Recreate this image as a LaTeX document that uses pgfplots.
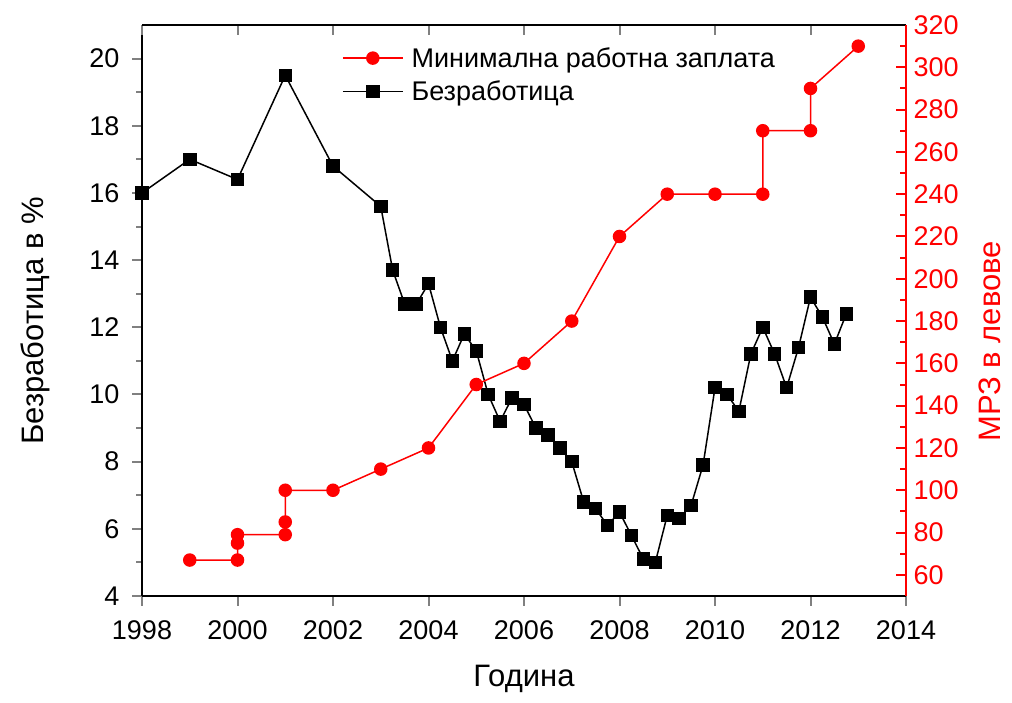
\documentclass[border=0pt]{standalone}
\usepackage{pgfplots}
\pgfplotsset{compat=1.18}
\usepackage{fontspec}
\setmainfont{Liberation Sans}
\definecolor{mwred}{RGB}{255,0,0}
\begin{document}
\begin{tikzpicture}[x=1pt,y=1pt]
\path[use as bounding box] (0,0) rectangle (1012,703);
\pgfplotsset{
  common/.style={
    at={(142pt,107pt)}, anchor=south west,
    scale only axis, width=764pt, height=571pt,
    xmin=1998, xmax=2014,
    xtick={1998,2000,...,2014}, minor x tick num=1,
    /pgf/number format/assume math mode=true,
    /pgf/number format/1000 sep={},
    tick label style={font=\fontsize{27}{32}\selectfont},
    label style={font=\fontsize{31}{37}\selectfont},
    major tick length=10pt, minor tick length=6pt,
    axis line style={-, line width=2pt},
    every tick/.append style={line width=2pt},
  },
}
\begin{axis}[common,
  axis x line*=bottom, axis y line*=left, tick align=outside,
  ymin=4, ymax=21, ytick={4,6,...,20}, minor y tick num=1,
  xticklabel style={yshift=-11pt},
  yticklabel style={xshift=-9pt},
  xlabel={Година}, ylabel={Безработица в \%},
  xlabel style={at={(axis description cs:0.5,-0.145)}, anchor=center},
  ylabel style={at={(axis description cs:-0.140,0.482)}, anchor=center, rotate=0},
]
\addplot[black, line width=1.5pt, mark=square*, mark size=6pt] coordinates {
(1998,16.0) (1999,17.0) (2000,16.4) (2001,19.5) (2002,16.8) (2003,15.6)
(2003.25,13.7) (2003.5,12.7) (2003.75,12.7) (2004,13.3)
(2004.25,12.0) (2004.5,11.0) (2004.75,11.8) (2005,11.3)
(2005.25,10.0) (2005.5,9.2) (2005.75,9.9) (2006,9.7)
(2006.25,9.0) (2006.5,8.8) (2006.75,8.4) (2007,8.0)
(2007.25,6.8) (2007.5,6.6) (2007.75,6.1) (2008,6.5)
(2008.25,5.8) (2008.5,5.1) (2008.75,5.0) (2009,6.4)
(2009.25,6.3) (2009.5,6.7) (2009.75,7.9) (2010,10.2)
(2010.25,10.0) (2010.5,9.5) (2010.75,11.2) (2011,12.0)
(2011.25,11.2) (2011.5,10.2) (2011.75,11.4) (2012,12.9)
(2012.25,12.3) (2012.5,11.5) (2012.75,12.4)
};
\end{axis}
\begin{axis}[common,
  axis x line*=top, axis y line*=right, tick align=inside,
  xticklabels={},
  x axis line style={black}, y axis line style={mwred},
  every major y tick/.append style={mwred},
  every minor y tick/.append style={mwred},
  yticklabel style={mwred, xshift=4pt},
  ymin=50, ymax=320, ytick={60,80,...,320}, minor y tick num=1,
  ylabel={МРЗ в левове},
  ylabel style={mwred, at={(axis description cs:1.110,0.446)}, anchor=center, rotate=0},
  legend style={draw=none, fill=none, at={(axis description cs:0.259,0.968)}, anchor=north west,
    font=\fontsize{27}{32}\selectfont, row sep=8pt, inner sep=2pt},
  legend cell align=left,
  legend image code/.code={\draw[#1, mark repeat=2, mark phase=2] plot coordinates {(0pt,0pt) (30pt,0pt) (60pt,0pt)};
    \path (66pt,0pt);},
]
\addplot[mwred, line width=1.5pt, mark=*, mark size=6pt] coordinates {
(1999,67) (2000,67) (2000,75) (2000,79) (2001,79) (2001,85) (2001,100)
(2002,100) (2003,110) (2004,120) (2005,150) (2006,160) (2007,180)
(2008,220) (2009,240) (2010,240) (2011,240) (2011,270) (2012,270)
(2012,290) (2013,310)
};
\addlegendentry{Минимална работна заплата}
\addlegendimage{black, line width=1.5pt, mark=square*, mark size=6pt}
\addlegendentry{Безработица}
\end{axis}
\end{tikzpicture}
\end{document}
